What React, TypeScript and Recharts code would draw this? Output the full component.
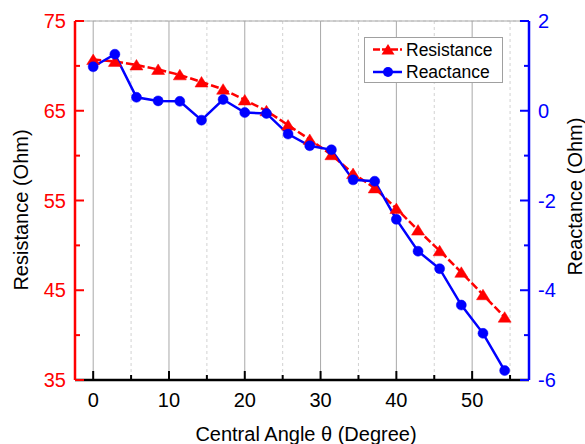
import React from 'react';
import { ComposedChart, Line, XAxis, YAxis, CartesianGrid, Legend } from 'recharts';

const angles = [0, 2.86, 5.71, 8.57, 11.43, 14.29, 17.14, 20, 22.86, 25.71, 28.57, 31.43, 34.29, 37.14, 40, 42.86, 45.71, 48.57, 51.43, 54.29];
const resistance = [70.7, 70.5, 70.1, 69.6, 69.0, 68.2, 67.4, 66.2, 65.0, 63.4, 61.8, 60.1, 58.0, 56.4, 54.1, 51.7, 49.4, 47.0, 44.5, 42.0];
const reactance = [0.98, 1.26, 0.3, 0.22, 0.21, -0.21, 0.25, -0.04, -0.06, -0.52, -0.78, -0.87, -1.54, -1.57, -2.42, -3.13, -3.52, -4.33, -4.96, -5.79];

const xTicks = [0, 5, 10, 15, 20, 25, 30, 35, 40, 45, 50, 55];
const xMajor = [0, 10, 20, 30, 40, 50];
const xMinor = [5, 15, 25, 35, 45, 55];
const resTicks = [35, 40, 45, 50, 55, 60, 65, 70, 75];
const resMajorGrid = [45, 55, 65];
const resMinorGrid = [40, 50, 60, 70];
const reaTicks = [-6, -5, -4, -3, -2, -1, 0, 1, 2];

const X_DOMAIN: [number, number] = [-2.4, 57.5];
const RES_DOMAIN: [number, number] = [35, 75];
const REA_DOMAIN: [number, number] = [-6, 2];

const FONT = '"Liberation Sans", Arial, sans-serif';
const RED = '#ff0000';
const BLUE = '#0000ff';

const data = angles.map((a, i) => ({ angle: a, resistance: resistance[i], reactance: reactance[i] }));

const W = 577;
const H = 436;

const triPoints = (cx: number, cy: number) =>
  `${cx},${cy - 5.5} ${cx - 6.5},${cy + 5} ${cx + 6.5},${cy + 5}`;

const TriangleDot = (p: any) => {
  const { cx, cy, index } = p;
  if (cx == null || cy == null) return <g key={`t${index}`} />;
  return <polygon key={`t${index}`} points={triPoints(cx, cy)} fill={RED} stroke={RED} strokeWidth={0.5} />;
};

const CircleDot = (p: any) => {
  const { cx, cy, index } = p;
  if (cx == null || cy == null) return <g key={`c${index}`} />;
  return <circle key={`c${index}`} cx={cx} cy={cy} r={5} fill={BLUE} stroke={BLUE} strokeWidth={0.5} />;
};

const BottomTick = (p: any) => {
  const { x, y, payload } = p;
  const v = payload.value;
  const major = v % 10 === 0;
  return (
    <g>
      <line x1={x} y1={y} x2={x} y2={y - (major ? 9 : 5)} stroke="#000" strokeWidth={2} />
      {major && (
        <text x={x} y={y + 27} textAnchor="middle" fontSize={20} fill="#000" fontFamily={FONT}>
          {v}
        </text>
      )}
    </g>
  );
};

const TopTick = (p: any) => {
  const { x, y, payload } = p;
  const v = payload.value;
  const major = v % 10 === 0;
  return <line x1={x} y1={y} x2={x} y2={y + (major ? 9 : 5)} stroke="#000" strokeWidth={2} />;
};

const LeftTick = (p: any) => {
  const { x, y, payload } = p;
  const v = payload.value;
  const major = (v - 35) % 10 === 0;
  return (
    <g>
      <line x1={x} y1={y} x2={x + (major ? 9 : 5)} y2={y} stroke={RED} strokeWidth={2} />
      {major && (
        <text x={x - 9} y={y + 7} textAnchor="end" fontSize={20} fill={RED} fontFamily={FONT}>
          {v}
        </text>
      )}
    </g>
  );
};

const RightTick = (p: any) => {
  const { x, y, payload } = p;
  const v = payload.value;
  const major = v % 2 === 0;
  return (
    <g>
      <line x1={x} y1={y} x2={x - (major ? 9 : 5)} y2={y} stroke={BLUE} strokeWidth={2} />
      {major && (
        <text x={x + 9} y={y + 7} textAnchor="start" fontSize={20} fill={BLUE} fontFamily={FONT}>
          {v}
        </text>
      )}
    </g>
  );
};

const XTitle = (p: any) => {
  const vb = p.viewBox || {};
  const x = vb.x + vb.width / 2 + 4;
  const y = vb.y + 61;
  return (
    <text x={x} y={y} textAnchor="middle" fontSize={20} fill="#000" fontFamily={FONT}>
      Central Angle θ (Degree)
    </text>
  );
};

const LeftTitle = (p: any) => {
  const vb = p.viewBox || {};
  const x = vb.x + 13;
  const y = vb.y + vb.height / 2 + 9.5;
  return (
    <text x={x} y={y} transform={`rotate(-90, ${x}, ${y})`} textAnchor="middle" fontSize={20} fill="#000" fontFamily={FONT}>
      Resistance (Ohm)
    </text>
  );
};

const RightTitle = (p: any) => {
  const vb = p.viewBox || {};
  const x = vb.x + 53;
  const y = vb.y + vb.height / 2 - 4;
  return (
    <text x={x} y={y} transform={`rotate(-90, ${x}, ${y})`} textAnchor="middle" fontSize={20} fill="#000" fontFamily={FONT}>
      Reactance (Ohm)
    </text>
  );
};

const LegendBox = () => (
  <svg width={140} height={47} style={{ display: 'block' }}>
    <rect x={0.5} y={0.5} width={138} height={45} fill="#fff" stroke="#a0a0a0" strokeWidth={1} />
    <line x1={9} y1={12.5} x2={38} y2={12.5} stroke={RED} strokeWidth={2.5} strokeDasharray="7 2" />
    <polygon points={triPoints(24, 12.5)} fill={RED} />
    <text x={42} y={19} fontSize={17.5} fill="#000" fontFamily={FONT}>Resistance</text>
    <line x1={9} y1={35} x2={38} y2={35} stroke={BLUE} strokeWidth={2.5} />
    <circle cx={24} cy={35} r={5} fill={BLUE} />
    <text x={42} y={41} fontSize={17.5} fill="#000" fontFamily={FONT}>Reactance</text>
  </svg>
);

export default function App() {
  return (
    <div style={{ position: 'absolute', left: 8, top: 8, width: W, height: H, fontFamily: FONT, overflow: 'hidden' }}>
      <ComposedChart width={W} height={H} data={data} margin={{ top: 13, right: 11, bottom: 14, left: 7 }}>
        <XAxis
          xAxisId="x"
          type="number"
          dataKey="angle"
          domain={X_DOMAIN}
          ticks={xTicks}
          height={50}
          tickSize={0}
          tickMargin={0}
          tickLine={false}
          axisLine={{ stroke: '#000', strokeWidth: 2.5 }}
          tick={(p: any) => <BottomTick {...p} />}
          interval={0}
          label={(p: any) => <XTitle {...p} />}
        />
        <XAxis
          xAxisId="top"
          orientation="top"
          type="number"
          dataKey="angle"
          domain={X_DOMAIN}
          ticks={xTicks}
          height={0}
          tickSize={0}
          tickMargin={0}
          tickLine={false}
          axisLine={{ stroke: '#000', strokeWidth: 2.5 }}
          tick={(p: any) => <TopTick {...p} />}
          interval={0}
        />
        <YAxis
          yAxisId="res"
          type="number"
          domain={RES_DOMAIN}
          ticks={resTicks}
          width={60}
          tickSize={0}
          tickMargin={0}
          tickLine={false}
          axisLine={{ stroke: RED, strokeWidth: 2.5 }}
          tick={(p: any) => <LeftTick {...p} />}
          interval={0}
          label={(p: any) => <LeftTitle {...p} />}
        />
        <YAxis
          yAxisId="rea"
          orientation="right"
          type="number"
          domain={REA_DOMAIN}
          ticks={reaTicks}
          width={45}
          tickSize={0}
          tickMargin={0}
          tickLine={false}
          axisLine={{ stroke: BLUE, strokeWidth: 2.5 }}
          tick={(p: any) => <RightTick {...p} />}
          interval={0}
          label={(p: any) => <RightTitle {...p} />}
        />
        <XAxis xAxisId="gMaj" type="number" dataKey="angle" domain={X_DOMAIN} ticks={xMajor} height={0} hide />
        <XAxis xAxisId="gMin" type="number" dataKey="angle" domain={X_DOMAIN} ticks={xMinor} height={0} hide />
        <YAxis yAxisId="gMajY" type="number" domain={RES_DOMAIN} ticks={resMajorGrid} width={0} hide />
        <YAxis yAxisId="gMinY" type="number" domain={RES_DOMAIN} ticks={resMinorGrid} width={0} hide />
        <CartesianGrid xAxisId="gMin" yAxisId="gMinY" stroke="#d2d2d2" strokeWidth={1} strokeDasharray="3 3" />
        <CartesianGrid xAxisId="gMaj" yAxisId="gMajY" stroke="#a8a8a8" strokeWidth={1} />
        <Line
          xAxisId="x"
          yAxisId="res"
          type="linear"
          dataKey="resistance"
          name="Resistance"
          stroke={RED}
          strokeWidth={2.5}
          strokeDasharray="8 3"
          dot={(p: any) => <TriangleDot {...p} />}
          activeDot={false}
          isAnimationActive={false}
        />
        <Line
          xAxisId="x"
          yAxisId="rea"
          type="linear"
          dataKey="reactance"
          name="Reactance"
          stroke={BLUE}
          strokeWidth={2.5}
          dot={(p: any) => <CircleDot {...p} />}
          activeDot={false}
          isAnimationActive={false}
        />
        <Legend
          layout="vertical"
          align="center"
          verticalAlign="middle"
          content={() => <LegendBox />}
          wrapperStyle={{ left: 356, top: 29, width: 140, height: 47 }}
        />
      </ComposedChart>
    </div>
  );
}
